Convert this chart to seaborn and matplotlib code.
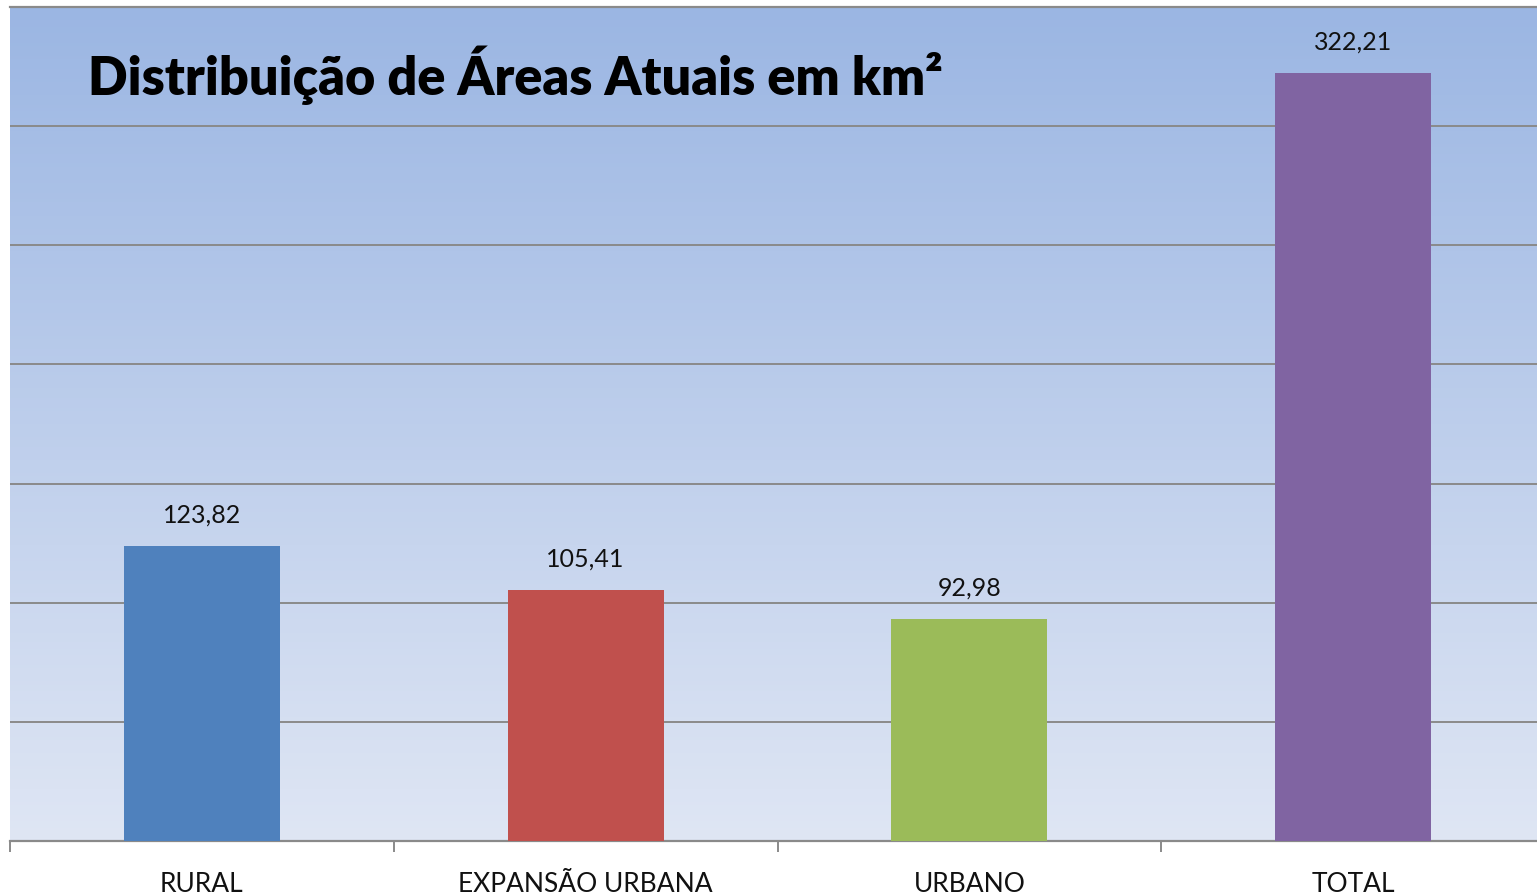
import numpy as np
import pandas as pd
import matplotlib
matplotlib.use("Agg")
import matplotlib.pyplot as plt
from matplotlib.colors import LinearSegmentedColormap
import seaborn as sns

# data
categories = ["RURAL", "EXPANSÃO URBANA", "URBANO", "TOTAL"]
areas_km2 = [123.82, 105.41, 92.98, 322.21]
bar_colors = ["#4f81bd", "#c0504d", "#9bbb59", "#8064a2"]
title = "Distribuição de Áreas Atuais em km²"

df = pd.DataFrame({"categoria": categories, "area": areas_km2})

sns.set_theme(style="white")
plt.rcParams["font.family"] = ["Lato", "DejaVu Sans"]

fig = plt.figure(figsize=(15.37, 8.94), dpi=100)
W, H = 1537, 894
ax = fig.add_axes([10 / W, 53 / H, 1535 / W, 834 / H])

# gradient background (darker blue at top)
grad_cmap = LinearSegmentedColormap.from_list("bg", ["#dfe6f4", "#9bb6e3"])
grad = np.linspace(0, 1, 256).reshape(-1, 1)
ax.imshow(grad, cmap=grad_cmap, aspect="auto", origin="lower",
          extent=[0, 1, 0, 1], transform=ax.transAxes, zorder=0)

sns.barplot(data=df, x="categoria", y="area", hue="categoria",
            palette=bar_colors, width=0.406, legend=False,
            saturation=1, linewidth=0, ax=ax, zorder=3)

ax.set_xlim(-0.5, len(categories) - 0.5)
ax.set_ylim(0, 350)
ax.set_yticks(np.arange(50, 351, 50))
ax.yaxis.grid(True, color="#8a8a8a", linewidth=1.4, zorder=1)
ax.set_axisbelow(True)
ax.tick_params(axis="y", left=False, labelleft=False)

# category labels centred, tick marks at the boundaries
ax.set_xticks(range(len(categories)))
ax.set_xticklabels(categories, fontsize=19, color="#111111")
ax.tick_params(axis="x", which="major", length=0, pad=22)
ax.set_xticks(np.arange(-0.5, len(categories), 1), minor=True)
ax.tick_params(axis="x", which="minor", length=8, width=1.4,
               color="#8a8a8a", bottom=True)
ax.set_xlabel("")
ax.set_ylabel("")

for side in ["left", "right"]:
    ax.spines[side].set_visible(False)
for side in ["top", "bottom"]:
    ax.spines[side].set_color("#8a8a8a")
    ax.spines[side].set_linewidth(1.6)

for i, v in enumerate(areas_km2):
    ax.annotate(f"{v:.2f}".replace(".", ","), (i, v), xytext=(0, 14),
                textcoords="offset points", ha="center", va="bottom",
                fontsize=18, color="#111111", zorder=5)

ax.text(78 / 1535, 1 - 95 / 834 + 7 / 834, title, transform=ax.transAxes,
        fontsize=37.5, fontweight="heavy", color="black", ha="left",
        va="baseline", zorder=5)

fig.savefig("out.png", dpi=100)
